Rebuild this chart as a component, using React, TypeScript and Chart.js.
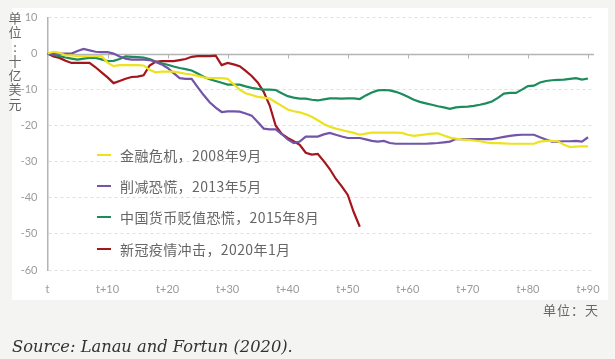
import React, { useEffect, useRef } from "react";
import { Chart, registerables } from "chart.js";

Chart.register(...registerables);

const xTickValues = [0, 10, 20, 30, 40, 50, 60, 70, 80, 90];
const xTickLabels = ["t", "t+10", "t+20", "t+30", "t+40", "t+50", "t+60", "t+70", "t+80", "t+90"];

const seriesNames = [
  "金融危机，2008年9月",
  "削减恐慌，2013年5月",
  "中国货币贬值恐慌，2015年8月",
  "新冠疫情冲击，2020年1月",
];
const seriesColors = ["#ece21e", "#7254a8", "#1c8c5c", "#a3161c"];

// values in billions of US dollars, one per day from t
const gfc2008 = [
  0, 0.5, 0.2, -0.5, -0.5, -0.7, -0.7, -0.7, -0.7, -0.7,
  -2.5, -3.5, -3.2, -3.2, -3.2, -3.2, -3.3, -4.5, -5.2, -5,
  -5, -5, -5.3, -5.6, -5.8, -6.2, -6.6, -6.8, -6.8, -6.8,
  -7, -8.5, -10, -11, -11.5, -12, -12.2, -12.5, -13.5, -14.5,
  -15.5, -16, -16.3, -16.8, -17.5, -18.5, -19.5, -20.3, -20.8, -21.2,
  -21.6, -22, -22.5, -22.2, -21.9, -21.9, -21.9, -21.9, -21.9, -22,
  -22.5, -22.8, -22.6, -22.4, -22.2, -22.1, -22.7, -23.3, -23.6, -23.8,
  -23.9, -24.1, -24.3, -24.6, -24.8, -24.8, -24.9, -25, -25, -25,
  -25, -25, -24.4, -24.2, -24.2, -24.3, -25.3, -25.9, -25.8, -25.7,
  -25.7,
];
const taper2013 = [
  0, 0, 0, 0, 0, 0.7, 1.3, 0.9, 0.5, 0.4,
  0.4, 0, -0.8, -1.4, -1.7, -1.7, -1.7, -1.8, -2.3, -3,
  -4, -5.4, -6.8, -7, -7, -9.3, -11.5, -13.5, -15, -16.2,
  -16, -16, -16.1, -16.6, -17.2, -19, -20.8, -21, -21, -22.3,
  -23.8, -24.8, -24.4, -23, -23, -23, -22.4, -22, -22.5, -23,
  -23.4, -23.4, -23.4, -23.8, -24.2, -24.4, -24.2, -24.8, -25, -25,
  -25, -25, -25, -25, -24.9, -24.8, -24.6, -24.4, -23.7, -23.7,
  -23.7, -23.7, -23.7, -23.7, -23.7, -23.4, -23.1, -22.8, -22.6, -22.5,
  -22.5, -22.5, -23.2, -23.8, -24.4, -24.4, -24.3, -24.3, -24.2, -24.4,
  -23.2,
];
const china2015 = [
  0, -0.4, -0.7, -1.1, -1.4, -1.7, -1.4, -1.2, -1.2, -1.6,
  -2.1, -2, -1.5, -0.8, -0.9, -1, -1.1, -1.5, -2.2, -2.7,
  -3.1, -3.6, -4, -4.3, -4.7, -5.5, -6.4, -7.1, -7.6, -8.1,
  -8.6, -8.6, -8.6, -9.1, -9.5, -9.8, -10, -10, -10.1, -11,
  -11.8, -12.2, -12.5, -12.5, -12.8, -13, -12.7, -12.4, -12.4, -12.5,
  -12.4, -12.4, -12.6, -11.6, -10.8, -10.2, -10.1, -10.2, -10.6, -11.2,
  -12, -12.8, -13.4, -13.8, -14.2, -14.6, -14.9, -15.3, -14.9, -14.8,
  -14.7, -14.5, -14.2, -13.8, -13.3, -12.3, -11.1, -10.9, -10.9, -10,
  -9, -8.9, -8, -7.6, -7.4, -7.3, -7.2, -7, -6.8, -7.2,
  -6.9,
];
const covid2020 = [
  0, -0.8, -1.2, -2, -2.6, -2.6, -2.6, -2.6, -3.8, -5.2,
  -6.6, -8.2, -7.6, -7, -6.5, -6.4, -6, -3.3, -2.3, -2.1,
  -2.1, -2.1, -1.8, -1.5, -0.9, -0.7, -0.7, -0.7, -0.6, -3.2,
  -2.6, -3, -3.5, -4.8, -6.2, -8, -10.6, -14.4, -20, -22.3,
  -23.4, -24.3, -25.3, -27.5, -28, -27.8, -29.8, -32, -34.7, -36.8,
  -39.2, -44, -48,
];

const seriesValues = [gfc2008, taper2013, china2015, covid2020];

const W = 615;
const H = 359;

export default function App() {
  const canvasRef = useRef<HTMLCanvasElement | null>(null);

  useEffect(() => {
    const canvas = canvasRef.current;
    if (!canvas) return;

    const zeroLinePlugin = {
      id: "zeroLine",
      beforeDatasetsDraw(chart: any) {
        const { ctx, chartArea, scales } = chart;
        const y0 = Math.round(scales.y.getPixelForValue(0)) + 0.5;
        ctx.save();
        ctx.strokeStyle = "#b4b4b4";
        ctx.lineWidth = 1.5;
        ctx.beginPath();
        ctx.moveTo(chartArea.left, y0);
        ctx.lineTo(chartArea.right, y0);
        ctx.stroke();
        ctx.lineWidth = 1;
        for (const v of xTickValues) {
          if (v === 0) continue;
          const x = Math.round(scales.x.getPixelForValue(v)) + 0.5;
          ctx.beginPath();
          ctx.moveTo(x, y0);
          ctx.lineTo(x, y0 + 4);
          ctx.stroke();
        }
        ctx.restore();
      },
    };

    const chart = new Chart(canvas, {
      type: "line",
      data: {
        datasets: seriesValues.map((vals, i) => ({
          label: seriesNames[i],
          data: vals.map((v, d) => ({ x: d, y: v })),
          borderColor: seriesColors[i],
          backgroundColor: seriesColors[i],
          borderWidth: 2.2,
          pointRadius: 0,
          tension: 0,
          fill: false,
        })),
      },
      options: {
        responsive: false,
        animation: false,
        devicePixelRatio: 1,
        layout: { padding: { top: 17.5, right: 21, left: 0, bottom: 0 } },
        plugins: {
          legend: { display: false },
          tooltip: { enabled: false },
        },
        scales: {
          x: {
            type: "linear",
            min: 0,
            max: 91,
            afterBuildTicks: (scale: any) => {
              scale.ticks = xTickValues.map((v) => ({ value: v }));
            },
            afterFit: (scale: any) => {
              scale.height = H - 270;
            },
            ticks: {
              autoSkip: false,
              maxRotation: 0,
              padding: 5,
              color: "#9b9b9b",
              font: { family: "Lato, 'Noto Sans', sans-serif", size: 11 },
              callback: (v: any) => xTickLabels[xTickValues.indexOf(Number(v))] ?? "",
            },
            grid: { display: false },
            border: { display: false },
          },
          y: {
            min: -60,
            max: 10,
            afterFit: (scale: any) => {
              scale.width = 47.5;
            },
            ticks: {
              stepSize: 10,
              padding: 10,
              color: "#9b9b9b",
              font: { family: "Lato, 'Noto Sans', sans-serif", size: 11 },
            },
            grid: {
              drawTicks: false,
              color: (ctx: any) =>
                ctx.tick && ctx.tick.value === 0 ? "rgba(0,0,0,0)" : "#dedede",
              lineWidth: 1,
            },
            border: { display: true, color: "#b4b4b4", width: 1.5, dash: [3, 3] },
          },
        },
      },
      plugins: [zeroLinePlugin],
    });

    return () => chart.destroy();
  }, []);

  const cjkFont = "'Noto Sans CJK SC', sans-serif";
  const unitChars = ["单", "位", "：", "十", "亿", "美", "元"];
  const legendTops = [155, 186, 217, 249];

  return (
    <div
      style={{
        position: "fixed",
        left: 0,
        top: 0,
        width: W,
        height: H,
        background: "#f4f4f2",
        overflow: "hidden",
      }}
    >
      <div
        style={{
          position: "absolute",
          left: 12,
          top: 8,
          width: 596,
          height: 292,
          background: "#ffffff",
        }}
      />
      <canvas
        ref={canvasRef}
        width={W}
        height={H}
        style={{ position: "absolute", left: 0, top: 0, width: W, height: H }}
      />
      <div
        style={{
          position: "absolute",
          left: 8,
          top: 11,
          width: 14,
          fontFamily: cjkFont,
          fontSize: 13,
          color: "#666",
          textAlign: "center",
        }}
      >
        {unitChars.map((c, i) => (
          <div key={i} style={{ height: 14.3, lineHeight: "14.3px" }}>
            {c === "：" ? ":" : c}
          </div>
        ))}
      </div>
      {seriesNames.map((name, i) => (
        <div
          key={name}
          style={{
            position: "absolute",
            left: 97,
            top: legendTops[i] - 10,
            height: 20,
            display: "flex",
            alignItems: "center",
            fontFamily: cjkFont,
            fontSize: 14,
            letterSpacing: 0.4,
            color: "#666",
            whiteSpace: "nowrap",
          }}
        >
          <span
            style={{
              display: "inline-block",
              width: 14,
              height: 2.5,
              background: seriesColors[i],
              marginRight: 9,
            }}
          />
          <span>{name}</span>
        </div>
      ))}
      <div
        style={{
          position: "absolute",
          left: 543,
          top: 300,
          fontFamily: cjkFont,
          fontSize: 13,
          letterSpacing: 1,
          color: "#666",
          whiteSpace: "nowrap",
        }}
      >
        单位：天
      </div>
      <div
        style={{
          position: "absolute",
          left: 12,
          top: 337,
          fontFamily: "'DejaVu Serif', serif",
          fontStyle: "italic",
          fontSize: 16.3,
          color: "#333",
          whiteSpace: "nowrap",
        }}
      >
        Source: Lanau and Fortun (2020).
      </div>
    </div>
  );
}
